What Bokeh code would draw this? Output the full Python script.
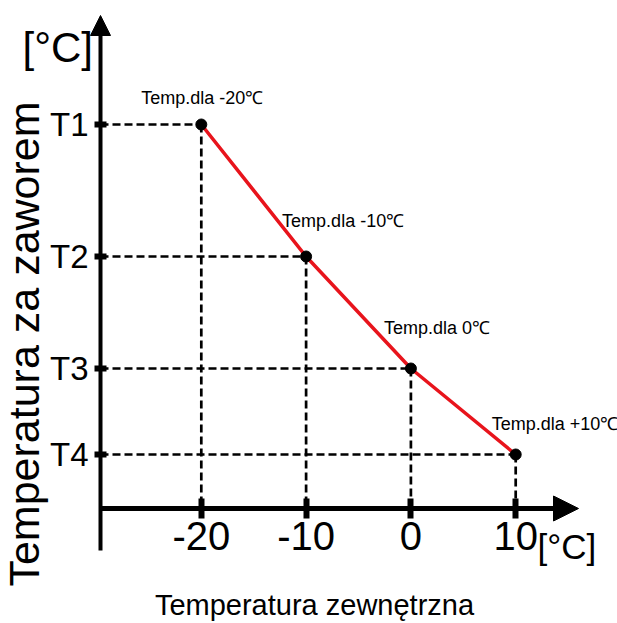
import math
from bokeh.plotting import figure
from bokeh.models import (Range1d, LinearAxis, FixedTicker, Arrow, NormalHead,
                          Label, ColumnDataSource)
from bokeh.core.properties import value
from bokeh.embed import file_html
from bokeh.resources import INLINE

# ---------------- data ----------------
outdoor_temps = [-20, -10, 0, 10]                 # Temperatura zewnętrzna
valve_temps = [38.4, 25.2, 14.0, 5.4]             # T1..T4 (relative units)
valve_tick_labels = ["T1", "T2", "T3", "T4"]
outdoor_tick_labels = ["-20", "-10", "0", "10"]
point_labels = ["Temp.dla -20℃", "Temp.dla -10℃", "Temp.dla 0℃", "Temp.dla +10℃"]
x_title = "Temperatura zewnętrzna"
y_title = "Temperatura za zaworem"
unit_text = "[°C]"

# label offsets (pixels) relative to their points
label_dx = [-60, -24, -27, -24]
label_dy = [-27, -36, -41, -31]

FONT = "Liberation Sans"

W, H = 617, 623
X0_PX, SX = 410.4, 10.48      # pixel x of 0 deg, px per degree
Y0_PX, SY = 508.0, 10.0       # pixel y of x-axis, px per unit


def tx(px):
    return (px - X0_PX) / SX


def vy(py):
    return (Y0_PX - py) / SY


p = figure(width=W, height=H,
           x_range=Range1d(tx(0), tx(W)),
           y_range=Range1d(vy(H), vy(0)),
           output_backend="svg", toolbar_location=None,
           x_axis_location=None, y_axis_location=None, min_border=0)
p.outline_line_color = None
p.grid.visible = False
p.background_fill_color = "white"
p.border_fill_color = "white"

Y_AXIS_X = tx(100)

src = ColumnDataSource(dict(x=outdoor_temps, y=valve_temps, label=point_labels,
                            dx=label_dx, dy=label_dy,
                            xa=[Y_AXIS_X] * len(outdoor_temps),
                            ya=[0] * len(outdoor_temps)))

# dashed guides
p.segment(x0="xa", y0="y", x1="x", y1="y", source=src, line_dash="8 4",
          line_width=2.7, line_color="black")
p.segment(x0="x", y0="y", x1="x", y1="ya", source=src, line_dash="8 4",
          line_width=2.7, line_color="black")

# red characteristic
p.line(x="x", y="y", source=src, line_color="#e8141c", line_width=3.5)
p.scatter(x="x", y="y", source=src, size=11, color="black")
p.text(x="x", y="y", text="label", source=src, x_offset="dx", y_offset="dy",
       text_font=value(FONT), text_font_size="18px", text_color="black",
       text_align="left", text_baseline="alphabetic")

# axes (ticks + labels)
xaxis = LinearAxis(fixed_location=0,
                   ticker=FixedTicker(ticks=outdoor_temps),
                   major_label_overrides={t: l for t, l in zip(outdoor_temps, outdoor_tick_labels)},
                   axis_line_color=None,
                   major_tick_in=10, major_tick_out=10, major_tick_line_width=6,
                   major_tick_line_color="black",
                   minor_tick_line_color=None,
                   major_label_standoff=3,
                   major_label_text_font=FONT,
                   major_label_text_font_size="40px",
                   major_label_text_color="black")
p.add_layout(xaxis, "below")

yaxis = LinearAxis(fixed_location=Y_AXIS_X,
                   ticker=FixedTicker(ticks=valve_temps),
                   major_label_overrides={t: l for t, l in zip(valve_temps, valve_tick_labels)},
                   axis_line_color=None,
                   major_tick_in=6, major_tick_out=6, major_tick_line_width=6,
                   major_tick_line_color="black",
                   minor_tick_line_color=None,
                   major_label_standoff=6,
                   major_label_text_font=FONT,
                   major_label_text_font_size="33px",
                   major_label_text_color="black")
p.add_layout(yaxis, "left")

# axis lines with arrow heads
p.add_layout(Arrow(end=NormalHead(size=20, fill_color="black", line_color="black"),
                   x_start=Y_AXIS_X, y_start=vy(550), x_end=Y_AXIS_X, y_end=vy(15),
                   line_width=4, line_color="black"))
p.add_layout(Arrow(end=NormalHead(size=25, fill_color="black", line_color="black"),
                   x_start=Y_AXIS_X, y_start=0, x_end=tx(578), y_end=0,
                   line_width=5, line_color="black"))

# titles and units
p.add_layout(Label(x=tx(314), y=vy(604), text=x_title, text_font=FONT,
                   text_font_size="29px", text_align="center",
                   text_baseline="alphabetic", text_color="black"))
p.add_layout(Label(x=tx(23), y=vy(343.5), text=y_title, angle=math.pi / 2,
                   text_font=FONT, text_font_size="43px", text_align="center",
                   text_baseline="alphabetic", text_color="black"))
p.add_layout(Label(x=tx(22), y=vy(47), text=unit_text, text_font=FONT,
                   text_font_size="42px", text_align="left",
                   text_baseline="alphabetic", text_color="black"))
p.add_layout(Label(x=tx(537), y=vy(546), text=unit_text, text_font=FONT,
                   text_font_size="35px", text_align="left",
                   text_baseline="alphabetic", text_color="black"))

open("out.html", "w").write(file_html(p, INLINE))
